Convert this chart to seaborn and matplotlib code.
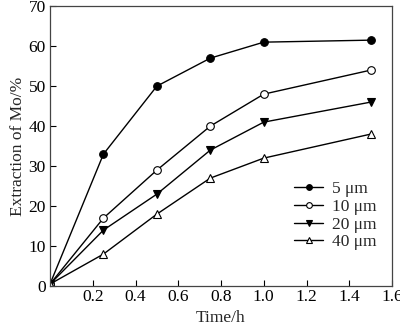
import matplotlib
matplotlib.use("Agg")
import matplotlib.pyplot as plt
import seaborn as sns
import pandas as pd

time_h = [0, 0.25, 0.5, 0.75, 1.0, 1.5]
ext_5 = [0.5, 33, 50, 57, 61, 61.5]
ext_10 = [0.5, 17, 29, 40, 48, 54]
ext_20 = [0.5, 14, 23, 34, 41, 46]
ext_40 = [0.5, 8, 18, 27, 32, 38]
series_labels = ["5 μm", "10 μm", "20 μm", "40 μm"]

sns.set_style("ticks")
plt.rcParams['font.family'] = ['Liberation Serif', 'DejaVu Serif']

rows = []
for lab, vals in zip(series_labels, [ext_5, ext_10, ext_20, ext_40]):
    for t, v in zip(time_h, vals):
        rows.append({"Time": t, "Extraction": v, "Size": lab})
df = pd.DataFrame(rows)

fig = plt.figure(figsize=(4.0, 3.24), dpi=100)
ax = fig.add_axes([0.125, 0.117, 0.855, 0.864])

styles = {
    "5 μm": dict(marker="o", mfc="black", ms=5.5),
    "10 μm": dict(marker="o", mfc="white", ms=5.5),
    "20 μm": dict(marker="v", mfc="black", ms=6.0),
    "40 μm": dict(marker="^", mfc="white", ms=6.0),
}
for lab in series_labels:
    sub = df[df["Size"] == lab]
    st = styles[lab]
    sns.lineplot(data=sub, x="Time", y="Extraction", ax=ax, color="black",
                 lw=1.0, marker=st["marker"], markersize=st["ms"],
                 markerfacecolor=st["mfc"], markeredgecolor="black",
                 markeredgewidth=0.8, label=lab)

ax.set_xlim(0, 1.6)
ax.set_ylim(0, 70)
ax.set_xticks([0.2, 0.4, 0.6, 0.8, 1.0, 1.2, 1.4, 1.6])
ax.set_yticks([0, 10, 20, 30, 40, 50, 60, 70])
ax.tick_params(direction="in", length=4, width=0.8, labelsize=12.5, colors="black",
               top=False, right=False)
ax.tick_params(axis="x", pad=2)
ax.tick_params(axis="y", pad=3)
for s in ax.spines.values():
    s.set_linewidth(0.9)
    s.set_color("#444444")
ax.set_xlabel("Time/h", fontsize=12.5)
ax.xaxis.set_label_coords(0.5, -0.085)
ax.xaxis.label.set_verticalalignment("top")
ax.set_ylabel("Extraction of Mo/%", fontsize=12.5, labelpad=2)

leg = ax.legend(loc="lower right", bbox_to_anchor=(0.985, 0.09), frameon=False,
                fontsize=12.5, handlelength=1.7, handletextpad=0.5,
                labelspacing=0.1, borderaxespad=0.2, markerscale=0.75)

fig.savefig("out.png", dpi=100)
